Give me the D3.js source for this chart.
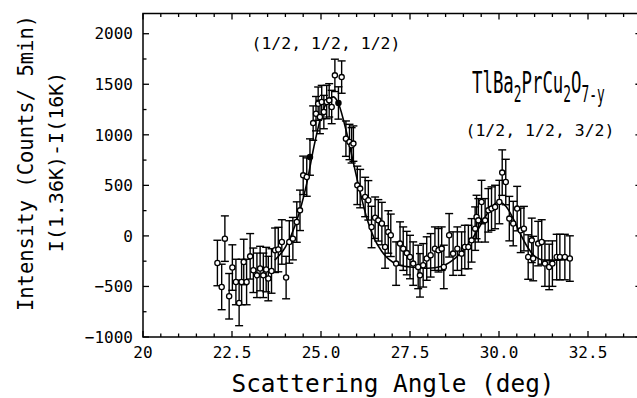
<!DOCTYPE html>
<html>
<head>
<meta charset="utf-8">
<script src="https://cdn.jsdelivr.net/npm/d3@7"></script>
<style>
  body { margin: 0; background: #fff; }
  svg text { font-family: "DejaVu Sans Mono", "Liberation Mono", monospace; fill: #000; }
</style>
</head>
<body>
<svg id="chart" width="637" height="398"></svg>
<script>
// scattering angle (deg), intensity difference, error bar half-length
const angle = [
  22.09, 22.21, 22.30, 22.42, 22.51, 22.61, 22.70, 22.77, 22.83, 22.91,
  23.01, 23.10, 23.20, 23.29, 23.38, 23.46, 23.52, 23.61, 23.71, 23.80,
  23.90, 24.02, 24.11, 24.21, 24.32, 24.41, 24.50, 24.60, 24.69, 24.78,
  24.86, 24.92, 24.97, 25.02, 25.08, 25.16, 25.23, 25.30, 25.39, 25.49,
  25.58, 25.70, 25.80, 25.86, 25.91, 26.02, 26.10, 26.24, 26.33, 26.42,
  26.52, 26.61, 26.71, 26.80, 26.89, 26.96, 27.11, 27.22, 27.31, 27.41,
  27.50, 27.59, 27.73, 27.78, 27.87, 27.97, 28.08, 28.20, 28.30, 28.39,
  28.45, 28.60, 28.71, 28.83, 28.95, 29.04, 29.14, 29.23, 29.33, 29.37,
  29.42, 29.51, 29.61, 29.70, 29.79, 29.89, 30.01, 30.09, 30.19, 30.29,
  30.40, 30.51, 30.61, 30.70, 30.82, 30.92, 30.96, 31.10, 31.20, 31.29,
  31.41, 31.50, 31.62, 31.71, 31.85, 31.99
];
const counts = [
  -268, -505, -27, -597, -313, -456, -663, -456, -258, -456,
  -202, -340, -390, -323, -390, -333, -422, -347, -142, -135,
  -60, -412, -60, -27, 137, 253, 599, 582, 780, 1116,
  1209, 1308, 1176, 1324, 1225, 1324, 1341, 1275, 1588, 1315,
  1571, 962, 929, 896, 913, 500, 468, 385, 352, 88,
  180, 154, 122, -110, 39, 6, -274, -76, -126, -170,
  -209, -274, -307, -390, -291, -224, -192, -126, -142, -126,
  -307, 6, -175, -126, -175, -110, -110, -44, 72, 187,
  154, 335, 154, 253, 270, 286, 335, 626, 533, 171,
  122, 270, 55, 72, -209, -44, -224, -76, -60, -274,
  -307, -274, -209, -209, -209, -224
];
const errs = [
  225, 225, 225, 225, 225, 225, 225, 225, 225, 225,
  225, 220, 220, 220, 220, 220, 220, 220, 220, 220,
  220, 210, 210, 210, 200, 200, 190, 190, 180, 170,
  170, 165, 165, 165, 165, 165, 165, 165, 160, 160,
  160, 175, 175, 175, 175, 190, 190, 195, 195, 205,
  205, 205, 210, 210, 210, 210, 215, 215, 215, 215,
  215, 215, 215, 215, 215, 215, 215, 215, 215, 215,
  215, 215, 215, 215, 215, 215, 215, 215, 215, 215,
  215, 215, 215, 215, 215, 215, 215, 225, 225, 220,
  220, 220, 220, 220, 220, 220, 220, 220, 220, 225,
  225, 225, 225, 225, 225, 225
];
const solidAt = [24.69, 25.49];

// fitted curve
const fitAngle  = [23.7, 24.0, 24.3, 24.6, 24.8, 25.0, 25.2, 25.35, 25.5, 25.7, 25.9, 26.1, 26.3, 26.5, 26.7,
                   26.9, 27.2, 27.6, 28.0, 28.4, 28.7, 29.0, 29.3, 29.6, 29.8, 30.0, 30.2, 30.4, 30.6,
                   30.8, 31.0, 31.3, 31.6, 32.0];
const fitCounts = [-240, -110, 130, 520, 880, 1180, 1340, 1375, 1300, 1050, 740, 430, 160, -30, -150,
                   -230, -290, -310, -320, -300, -240, -140, 0, 180, 290, 335, 290, 170, 20,
                   -110, -200, -240, -240, -230];

const xTicks = [20, 22.5, 25, 27.5, 30, 32.5];
const yTicks = [-1000, -500, 0, 500, 1000, 1500, 2000];

const svg = d3.select('#chart');
const x = d3.scaleLinear().domain([20, 34]).range([143, 641.4]);
const y = d3.scaleLinear().domain([-1000, 2200]).range([337, 13.5]);
const [x0, x1] = x.range();
const [y0, y1] = y.range();

// frame
svg.append('rect')
    .attr('x', x0).attr('y', y1).attr('width', x1 - x0).attr('height', y0 - y1)
    .attr('fill', 'none').attr('stroke', '#000').attr('stroke-width', 1.5);

// inward ticks on all four sides
const xMinor = d3.range(20, 34.01, 0.5);
const yMinor = d3.range(-1000, 2200, 250);
const isMajX = v => Math.abs(v / 2.5 - Math.round(v / 2.5)) < 1e-6;
const isMajY = v => v % 500 === 0;
const tk = svg.append('g').attr('stroke', '#000').attr('stroke-width', 1.3);
xMinor.forEach(v => {
    const len = isMajX(v) ? 6 : 3.5;
    tk.append('line').attr('x1', x(v)).attr('x2', x(v)).attr('y1', y0).attr('y2', y0 - len);
    tk.append('line').attr('x1', x(v)).attr('x2', x(v)).attr('y1', y1).attr('y2', y1 + len);
});
yMinor.forEach(v => {
    const len = isMajY(v) ? 6 : 3.5;
    tk.append('line').attr('y1', y(v)).attr('y2', y(v)).attr('x1', x0).attr('x2', x0 + len);
    tk.append('line').attr('y1', y(v)).attr('y2', y(v)).attr('x1', x1).attr('x2', x1 - len);
});

// tick labels
svg.append('g').selectAll('text').data(xTicks).join('text')
    .attr('x', d => x(d)).attr('y', y0 + 21)
    .attr('text-anchor', 'middle').attr('font-size', 16)
    .text(d => d === 20 ? '20' : d3.format('.1f')(d));
svg.append('g').selectAll('text').data(yTicks).join('text')
    .attr('x', x0 - 10).attr('y', d => y(d)).attr('dy', '0.36em')
    .attr('text-anchor', 'end').attr('font-size', 16)
    .text(d => d3.format('d')(d));

// axis titles
svg.append('text')
    .attr('x', 393).attr('y', 392)
    .attr('text-anchor', 'middle').attr('font-size', 24.4)
    .text('Scattering Angle (deg)');
svg.append('text')
    .attr('transform', 'translate(33,163) rotate(-90)')
    .attr('text-anchor', 'middle').attr('font-size', 20.5)
    .text('Intensity (Counts/ 5min)');
svg.append('text')
    .attr('transform', 'translate(63,162) rotate(-90)')
    .attr('text-anchor', 'middle').attr('font-size', 20)
    .text('I(1.36K)-I(16K)');

// fitted curve
svg.append('path')
    .datum(fitAngle.map((a, i) => [a, fitCounts[i]]))
    .attr('fill', 'none').attr('stroke', '#000').attr('stroke-width', 1.6)
    .attr('d', d3.line().x(d => x(d[0])).y(d => y(d[1])).curve(d3.curveMonotoneX));

// data with error bars
const pts = angle.map((a, i) => ({ a, c: counts[i], e: errs[i], solid: solidAt.includes(a) }));
const eb = svg.append('g').attr('stroke', '#000').attr('stroke-width', 1.4);
pts.forEach(d => {
    const px = x(d.a), top = y(d.c + d.e), bot = y(d.c - d.e);
    eb.append('line').attr('x1', px).attr('x2', px).attr('y1', top).attr('y2', bot);
    eb.append('line').attr('x1', px - 4).attr('x2', px + 4).attr('y1', top).attr('y2', top);
    eb.append('line').attr('x1', px - 4).attr('x2', px + 4).attr('y1', bot).attr('y2', bot);
});
svg.append('g').selectAll('circle').data(pts).join('circle')
    .attr('cx', d => x(d.a)).attr('cy', d => y(d.c)).attr('r', 2.6)
    .attr('fill', d => d.solid ? '#000' : '#fff')
    .attr('stroke', '#000').attr('stroke-width', 1.3);

// annotations
svg.append('text')
    .attr('x', 326).attr('y', 49).attr('text-anchor', 'middle').attr('font-size', 16.5)
    .text('(1/2, 1/2, 1/2)');
svg.append('text')
    .attr('x', 540).attr('y', 136).attr('text-anchor', 'middle').attr('font-size', 16.5)
    .text('(1/2, 1/2, 3/2)');

// compound name, condensed to match the plotter lettering
const f = svg.append('text')
    .attr('transform', 'translate(472,93) scale(0.56,1)')
    .attr('font-size', 31);
f.append('tspan').text('TlBa');
f.append('tspan').attr('font-size', 23).attr('dy', 9).text('2');
f.append('tspan').attr('dy', -9).text('PrCu');
f.append('tspan').attr('font-size', 23).attr('dy', 9).text('2');
f.append('tspan').attr('dy', -9).text('O');
f.append('tspan').attr('font-size', 23).attr('dy', 9).text('7-y');
</script>
</body>
</html>
